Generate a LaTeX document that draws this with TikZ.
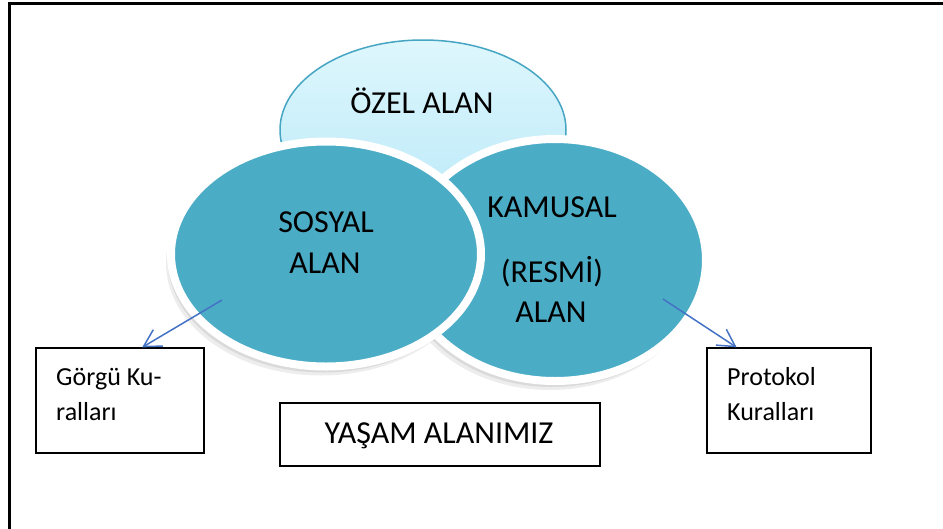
\documentclass[tikz,border=0pt]{standalone}
\usepackage{fontspec}
\setmainfont{Carlito}
\usetikzlibrary{shapes.geometric,arrows.meta,calc}
\definecolor{teal1}{RGB}{75,172,198}
\definecolor{tealedge}{RGB}{70,165,195}
\definecolor{ltop}{RGB}{222,247,253}
\definecolor{lbot}{RGB}{186,233,248}
\definecolor{arrowblue}{RGB}{68,114,196}
\tikzset{
  bigtxt/.style={font=\fontsize{32}{38}\selectfont, inner sep=0, anchor=base, text=black},
  smalltxt/.style={font=\fontsize{26}{31}\selectfont, inner sep=0, anchor=base west, text=black},
  circ/.style={ellipse, inner sep=0, draw=white, line width=8pt, fill=teal1,
    preaction={fill=black, fill opacity=0.07, draw=none, transform canvas={xshift=-5pt, yshift=-9pt}},
    preaction={fill=black, fill opacity=0.08, draw=none, transform canvas={xshift=-3pt, yshift=-6pt}}},
  topcirc/.style={ellipse, inner sep=0, draw=tealedge, line width=1.5pt,
    top color=ltop, bottom color=lbot},
  box/.style={draw=black, line width=1.3pt, fill=white, inner sep=0},
  arr/.style={draw=arrowblue, line width=1.5pt, -{Straight Barb[length=17pt, width=19pt]}}
}
\begin{document}
\begin{tikzpicture}[x=1pt, y=-1pt]
\useasboundingbox (0,0) rectangle (943,528);
\fill[white] (0,0) rectangle (943,528);
% frame
\coordinate (fb) at (9,530);
\coordinate (fc) at (9,3);
\coordinate (fr) at (945,3);
\draw[line width=3pt, line cap=rect] (fb) -- (fc) -- (fr);
% ellipses
\node[topcirc, minimum width=286pt, minimum height=180pt] (ozel) at (423,130) {};
\node[circ, minimum width=302pt, minimum height=242pt] (kamusal) at (555,260) {};
\node[circ, minimum width=310pt, minimum height=225pt] (sosyal) at (326,254) {};
% texts
\node[bigtxt] (ozeltxt) at (422,113) {ÖZEL ALAN};
\node[bigtxt] (sos1) at (326,232) {SOSYAL};
\node[bigtxt] (sos2) at (325,273) {ALAN};
\node[bigtxt] (kam1) at (552,217) {KAMUSAL};
\node[bigtxt] (kam2) at (552,282) {(RESMİ)};
\node[bigtxt] (kam3) at (551,322) {ALAN};
% boxes
\node[box, minimum width=168pt, minimum height=105pt] (gorgu) at (120,400.5) {};
\node[smalltxt] (g1) at (56,385) {Görgü Ku-};
\node[smalltxt] (g2) at (56,420) {ralları};
\node[box, minimum width=164pt, minimum height=105pt] (protokol) at (789,400.5) {};
\node[smalltxt] (p1) at (727,385) {Protokol};
\node[smalltxt] (p2) at (727,420) {Kuralları};
\node[box, minimum width=320pt, minimum height=63pt] (yasam) at (440,434.5) {};
\node[bigtxt] (yasamtxt) at (439,443) {YAŞAM ALANIMIZ};
% arrows
\coordinate (sosstart) at (222,300);
\coordinate (kamstart) at (663,299);
\draw[arr] (sosstart) -- ($(gorgu.north west)!0.631!(gorgu.north east)$);
\draw[arr] (kamstart) -- ($(protokol.north west)!0.183!(protokol.north east)$);
\end{tikzpicture}
\end{document}
